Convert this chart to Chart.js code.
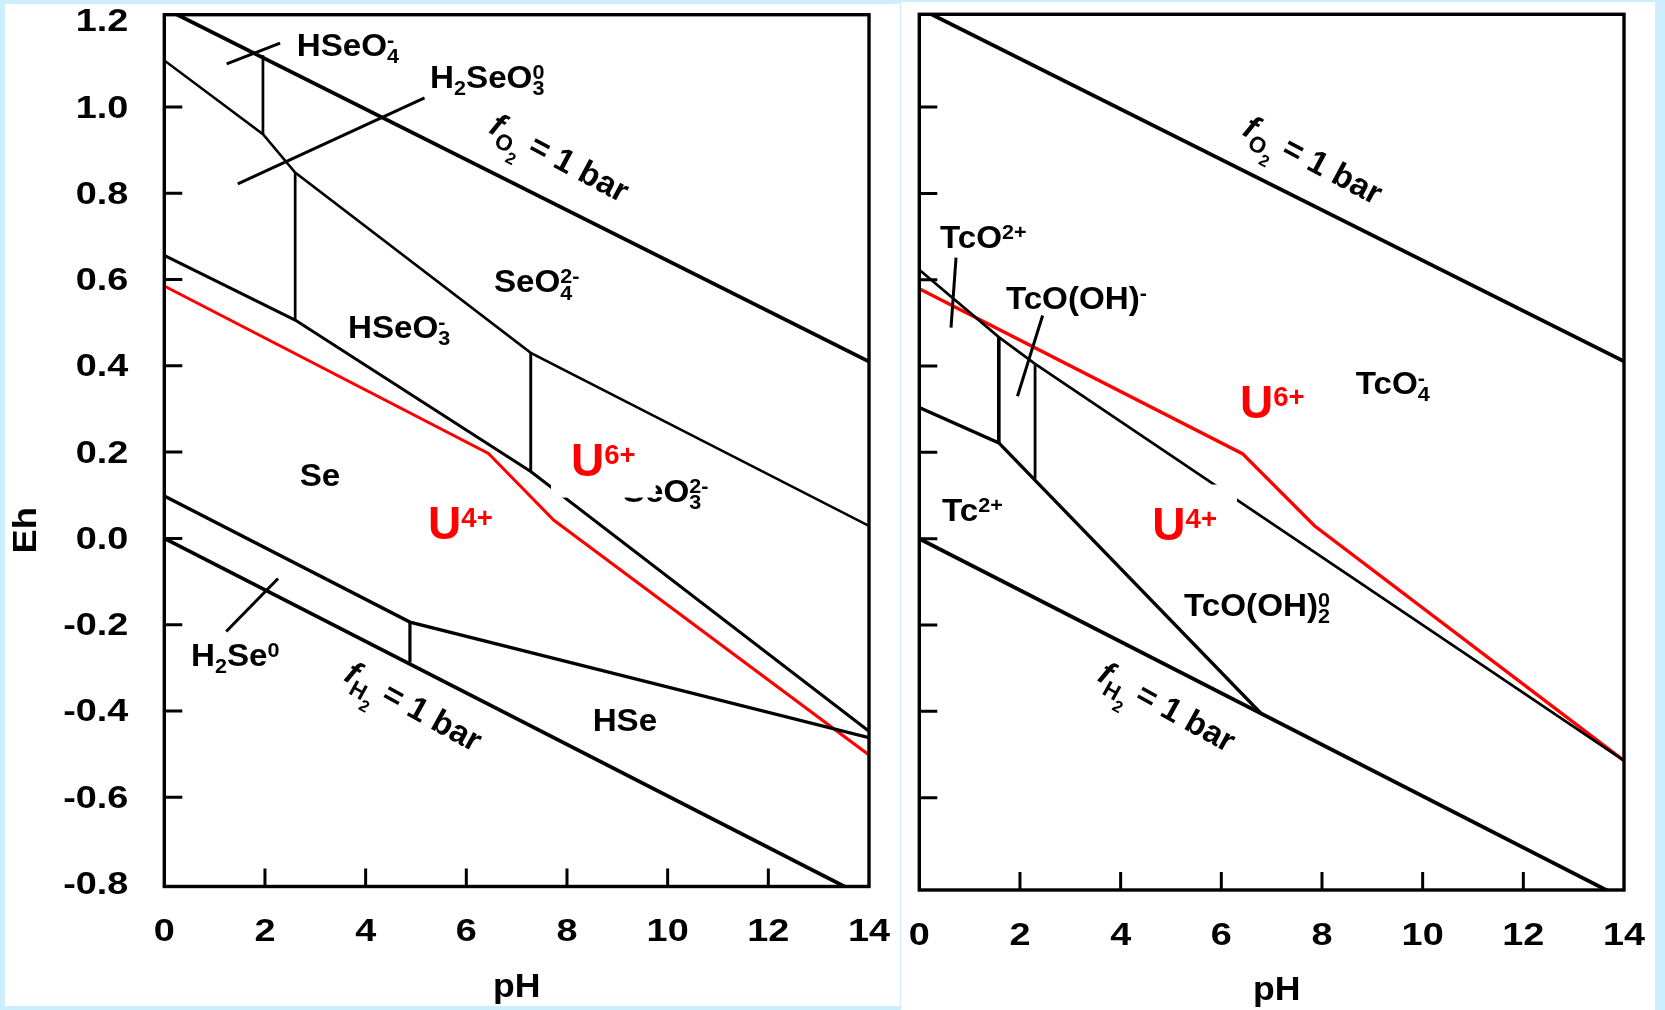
<!DOCTYPE html>
<html>
<head>
<meta charset="utf-8">
<script src="https://cdn.jsdelivr.net/npm/chart.js@4.4.0/dist/chart.umd.min.js"></script>
<style>
  body { margin:0; background:#cdeefe; width:1665px; height:1010px; position:relative; overflow:hidden; }
  .panel { position:absolute; background:#fff; }
  #panelSe { left:5px; top:4px; width:895px; height:1002px; }
  #panelTc { left:901px; top:2px; width:754px; height:1008px; }
  canvas { display:block; }
</style>
</head>
<body>
<div class="panel" id="panelSe"><canvas id="chartSe" width="895" height="1002"></canvas></div>
<div class="panel" id="panelTc"><canvas id="chartTc" width="754" height="1008"></canvas></div>
<script>
// axes
var phTicks = [0, 2, 4, 6, 8, 10, 12, 14];
var ehTicks = [-0.8, -0.6, -0.4, -0.2, 0, 0.2, 0.4, 0.6, 0.8, 1.0, 1.2];
var ehTickLabels = ['-0.8', '-0.6', '-0.4', '-0.2', '0.0', '0.2', '0.4', '0.6', '0.8', '1.0', '1.2'];

// Se diagram (pH, Eh)
var seO2 = [[0, 1.229], [14, 0.41]];
var seH2 = [[0, 0.0], [14, -0.836]];
var seHSeLine = [[0, 0.098], [4.88, -0.194], [14, -0.462]];
var seStep488 = [[4.88, -0.194], [4.88, -0.287]];
var seSeTop = [[0, 0.656], [2.6, 0.506], [7.28, 0.155], [14, -0.447]];
var seStep26 = [[2.6, 0.848], [2.6, 0.506]];
var seSeO4Line = [[0, 1.108], [1.96, 0.937], [2.6, 0.848], [7.28, 0.43], [14, 0.029]];
var seStep196 = [[1.96, 1.12], [1.96, 0.937]];
var seStep728 = [[7.28, 0.43], [7.28, 0.155]];
var seHSeO4Tick = [[1.24, 1.100], [2.30, 1.148]];
var seH2SeO3Tick = [[1.46, 0.822], [5.17, 1.021]];
var seH2SeTick = [[1.23, -0.216], [2.26, -0.093]];
var seUranium = [[0, 0.585], [6.44, 0.197], [7.74, 0.042], [14, -0.502]];

// Tc diagram (pH, Eh)
var tcO2 = [[0, 1.229], [14, 0.411]];
var tcH2 = [[0, 0.0], [14, -0.835]];
var tcTcO4Line = [[0, 0.623], [1.58, 0.467], [2.30, 0.405], [14, -0.514]];
var tcStep158 = [[1.58, 0.467], [1.58, 0.222]];
var tcStep230 = [[2.30, 0.405], [2.30, 0.139]];
var tcTc2Line = [[0, 0.304], [1.58, 0.222], [6.79, -0.405]];
var tcTcO2Tick = [[0.73, 0.651], [0.63, 0.489]];
var tcTcOOHTick = [[2.45, 0.517], [1.95, 0.330]];
var tcUranium = [[0, 0.579], [6.42, 0.197], [7.85, 0.030], [14, -0.514]];

var FONT = '"Liberation Sans", Arial, sans-serif';

// bits of rich text
function N(t) { return { t: t }; }
function IT(t) { return { t: t, it: true }; }
function SUB(t, hold) { return { t: t, s: 0.65, dy: 0.23, hold: hold }; }
function SUP(t, hold) { return { t: t, s: 0.65, dy: -0.29, hold: hold }; }

var fO2Text = [IT('f'), { t: 'O', s: 0.68, dy: 0.28 }, { t: '2', s: 0.5, dy: 0.55 }, N('\u2009= 1 bar')];
var fH2Text = [IT('f'), { t: 'H', s: 0.68, dy: 0.28 }, { t: '2', s: 0.5, dy: 0.55 }, N('\u2009= 1 bar')];

var seLabels = [
  { parts: [N('HSeO'), SUP('-', true), SUB('4')], x: 2.63, y: 1.144 },
  { parts: [N('H'), SUB('2'), N('SeO'), SUP('0', true), SUB('3')], x: 5.28, y: 1.070 },
  { parts: fO2Text, x: 7.86, y: 0.884, rot: 28, size: 33 },
  { parts: [N('SeO'), SUP('2-', true), SUB('4')], x: 6.55, y: 0.596 },
  { parts: [N('HSeO'), SUP('-', true), SUB('3')], x: 3.65, y: 0.490 },
  { parts: [N('Se')], x: 2.69, y: 0.147 },
  { parts: [N('SeO'), SUP('2-', true), SUB('3')], x: 9.11, y: 0.110 },
  { parts: [N('H'), SUB('2'), N('Se'), SUP('0')], x: 0.53, y: -0.270 },
  { parts: fH2Text, x: 4.96, y: -0.388, rot: 29, size: 33 },
  { parts: [N('HSe')], x: 8.51, y: -0.421 },
  { parts: [N('U'), { t: '6+', s: 0.6, dy: -0.26 }], x: 8.08, y: 0.184, size: 46, color: '#ff0000', box: true },
  { parts: [N('U'), { t: '4+', s: 0.6, dy: -0.26 }], x: 5.24, y: 0.036, size: 46, color: '#ff0000' }
];

var tcLabels = [
  { parts: fO2Text, x: 7.83, y: 0.879, rot: 28, size: 33 },
  { parts: [N('TcO'), SUP('2+')], x: 0.41, y: 0.700 },
  { parts: [N('TcO(OH)'), SUP('-')], x: 1.72, y: 0.559 },
  { parts: [N('TcO'), SUP('-', true), SUB('4')], x: 8.67, y: 0.362 },
  { parts: [N('Tc'), SUP('2+')], x: 0.45, y: 0.066 },
  { parts: [N('TcO(OH)'), SUP('0', true), SUB('2')], x: 5.26, y: -0.154 },
  { parts: fH2Text, x: 4.93, y: -0.388, rot: 29, size: 33 },
  { parts: [N('U'), { t: '6+', s: 0.6, dy: -0.26 }], x: 6.37, y: 0.318, size: 46, color: '#ff0000' },
  { parts: [N('U'), { t: '4+', s: 0.6, dy: -0.26 }], x: 4.63, y: 0.036, size: 46, color: '#ff0000', box: true }
];

function partFont(p, size) {
  return (p.it ? 'italic ' : '') + 'bold ' + (size * (p.s || 1)) + 'px ' + FONT;
}

// draws (or only measures) a rich label, x = left, base = baseline
function richText(ctx, parts, x, base, size, draw) {
  var cx = x, held = 0;
  for (var i = 0; i < parts.length; i++) {
    var p = parts[i];
    ctx.font = partFont(p, size);
    var w = ctx.measureText(p.t).width;
    if (draw) ctx.fillText(p.t, cx, base + (p.dy || 0) * size);
    if (p.hold) {
      held = w;
    } else {
      cx += Math.max(w, held);
      held = 0;
    }
  }
  return cx - x;
}

function drawLabel(ctx, l, xs, ys) {
  var size = l.size || 31;
  var sx = l.size ? 1 : 1.07;
  var px = xs.getPixelForValue(l.x);
  var py = ys.getPixelForValue(l.y);
  ctx.save();
  ctx.textAlign = 'left';
  ctx.textBaseline = 'alphabetic';
  var w = richText(ctx, l.parts, 0, 0, size, false) * sx;
  if (l.rot) {
    ctx.translate(px, py);
    ctx.rotate(l.rot * Math.PI / 180);
    ctx.fillStyle = l.color || '#000';
    richText(ctx, l.parts, -w / 2, size * 0.36, size, true);
  } else {
    if (l.box) {
      ctx.fillStyle = '#fff';
      ctx.fillRect(px - 20, py - size * 0.36 - 22, w + 40, size * 0.72 + 44);
    }
    ctx.fillStyle = l.color || '#000';
    ctx.translate(px, py + size * 0.36);
    ctx.scale(sx, 1);
    richText(ctx, l.parts, 0, 0, size, true);
  }
  ctx.restore();
}

function stretchedText(ctx, text, x, y, align, sx) {
  ctx.save();
  ctx.translate(x, y);
  ctx.scale(sx, 1);
  ctx.textAlign = align;
  ctx.fillText(text, 0, 0);
  ctx.restore();
}

var diagramDecor = {
  id: 'diagramDecor',
  afterDatasetsDraw: function(chart, args, opts) {
    var ctx = chart.ctx;
    var a = chart.chartArea;
    var xs = chart.scales.x;
    var ys = chart.scales.y;

    // labels, white-boxed ones last
    opts.labels.filter(function(l) { return !l.box; }).forEach(function(l) { drawLabel(ctx, l, xs, ys); });
    opts.labels.filter(function(l) { return l.box; }).forEach(function(l) { drawLabel(ctx, l, xs, ys); });

    ctx.save();
    ctx.strokeStyle = '#000';
    ctx.fillStyle = '#000';

    // inward ticks
    ctx.lineWidth = 3;
    ctx.beginPath();
    phTicks.forEach(function(v) {
      var x = xs.getPixelForValue(v);
      if (x > a.left + 10 && x < a.right - 10) {
        ctx.moveTo(x, a.bottom);
        ctx.lineTo(x, a.bottom - 18);
      }
    });
    ehTicks.forEach(function(v) {
      var y = ys.getPixelForValue(v);
      if (y > a.top + 10 && y < a.bottom - 10) {
        ctx.moveTo(a.left, y);
        ctx.lineTo(a.left + 18, y);
      }
    });
    ctx.stroke();

    // frame
    ctx.lineWidth = 3.4;
    ctx.strokeRect(a.left, a.top, a.right - a.left, a.bottom - a.top);

    // tick labels
    ctx.font = 'bold 31px ' + FONT;
    ctx.textBaseline = 'middle';
    phTicks.forEach(function(v) {
      stretchedText(ctx, String(v), xs.getPixelForValue(v), a.bottom + 46, 'center', 1.22);
    });
    if (opts.yLabels) {
      ehTicks.forEach(function(v, i) {
        stretchedText(ctx, ehTickLabels[i], a.left - 36, ys.getPixelForValue(v) + 2, 'right', 1.22);
      });
    }

    // axis titles
    ctx.font = 'bold 33px ' + FONT;
    stretchedText(ctx, 'pH', (a.left + a.right) / 2 + opts.phShift, a.bottom + 101, 'center', 1.08);
    if (opts.yLabels) {
      ctx.save();
      ctx.translate(21.5, ys.getPixelForValue(0) - 8);
      ctx.rotate(-Math.PI / 2);
      stretchedText(ctx, 'Eh', 0, 0, 'center', 1.1);
      ctx.restore();
    }
    ctx.restore();
  }
};

function line(pts, color, width) {
  return {
    data: pts.map(function(p) { return { x: p[0], y: p[1] }; }),
    showLine: true,
    borderColor: color,
    borderWidth: width,
    pointRadius: 0,
    fill: false,
    tension: 0
  };
}

function makeChart(id, datasets, yMin, yMax, padding, labels, yLabels, phShift) {
  return new Chart(document.getElementById(id), {
    type: 'scatter',
    data: { datasets: datasets },
    options: {
      responsive: false,
      animation: false,
      events: [],
      layout: { padding: padding },
      scales: {
        x: { type: 'linear', min: 0, max: 14, display: false },
        y: { type: 'linear', min: yMin, max: yMax, display: false }
      },
      plugins: {
        legend: { display: false },
        tooltip: { enabled: false },
        diagramDecor: { labels: labels, yLabels: yLabels, phShift: phShift }
      }
    },
    plugins: [diagramDecor]
  });
}

var black = '#000000';
var red = '#ff0000';

makeChart('chartSe', [
  line(seO2, black, 3.8),
  line(seH2, black, 3.8),
  line(seHSeLine, black, 3.4),
  line(seStep488, black, 3.2),
  line(seSeTop, black, 3),
  line(seStep26, black, 2.7),
  line(seSeO4Line, black, 2.6),
  line(seStep196, black, 2.7),
  line(seStep728, black, 2.9),
  line(seHSeO4Tick, black, 3),
  line(seH2SeO3Tick, black, 3),
  line(seH2SeTick, black, 3),
  line(seUranium, red, 3)
], -0.807, 1.214, { left: 159.3, right: 31, top: 10.7, bottom: 119.5 }, seLabels, true, 0);

makeChart('chartTc', [
  line(tcO2, black, 3.8),
  line(tcH2, black, 3.8),
  line(tcTcO4Line, black, 2.7),
  line(tcStep158, black, 3.6),
  line(tcStep230, black, 2.8),
  line(tcTc2Line, black, 3.3),
  line(tcTcO2Tick, black, 3),
  line(tcTcOOHTick, black, 3),
  line(tcUranium, red, 3.4)
], -0.814, 1.215, { left: 18.3, right: 31, top: 12.3, bottom: 120 }, tcLabels, false, 5);
</script>
</body>
</html>
